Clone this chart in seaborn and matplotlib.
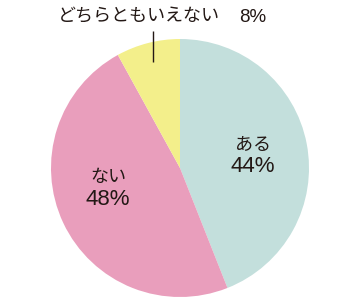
import numpy as np
import matplotlib
matplotlib.use("Agg")
import matplotlib.pyplot as plt
import seaborn as sns

categories = ["ある", "ない", "どちらともいえない"]
values = [44, 48, 8]
pct_labels = ["44%", "48%", "8%"]
colors = ["#c3dfdc", "#e99ebc", "#f3ef8b"]

sns.set_style("white")
plt.rcParams['font.family'] = ['Noto Sans CJK JP', 'DejaVu Sans']

W, H = 361, 301
fig = plt.figure(figsize=(W / 100, H / 100), dpi=100)
ax = fig.add_axes([0, 0, 1, 1])
cx, cy, R = 180, 168, 129

wedges, _ = ax.pie(values, colors=colors, startangle=90, counterclock=False,
                   radius=1.0, wedgeprops=dict(linewidth=0))
ax.set_xlim(-cx / R, (W - cx) / R)
ax.set_ylim((cy - H) / R, cy / R)
ax.set_aspect('auto')
ax.axis('off')

txt = dict(ha='center', va='center', color='#231815')
num = dict(ha='center', va='center', color='#231815',
           family=['Liberation Sans', 'DejaVu Sans'])
# ある
ax.text(0.566, 0.178, categories[0], fontsize=13, **txt)
ax.text(0.566, 0.015, pct_labels[0], fontsize=16, **num)
# ない
ax.text(-0.558, -0.070, categories[1], fontsize=13, **txt)
ax.text(-0.558, -0.245, pct_labels[1], fontsize=16, **num)

# leader for small slice
w = wedges[2]
mid = np.deg2rad((w.theta1 + w.theta2) / 2)
x0 = 0.85 * np.cos(mid)
y0 = 0.85 * np.sin(mid)
ax.plot([x0, x0], [y0, 1.06], color='#231815', lw=1.0, solid_capstyle='butt')
ax.text(-0.322, 1.178, categories[2], fontsize=13, **txt)
ax.text(0.562, 1.165, pct_labels[2], fontsize=13.5, **num)

fig.savefig("out.png", dpi=100)
